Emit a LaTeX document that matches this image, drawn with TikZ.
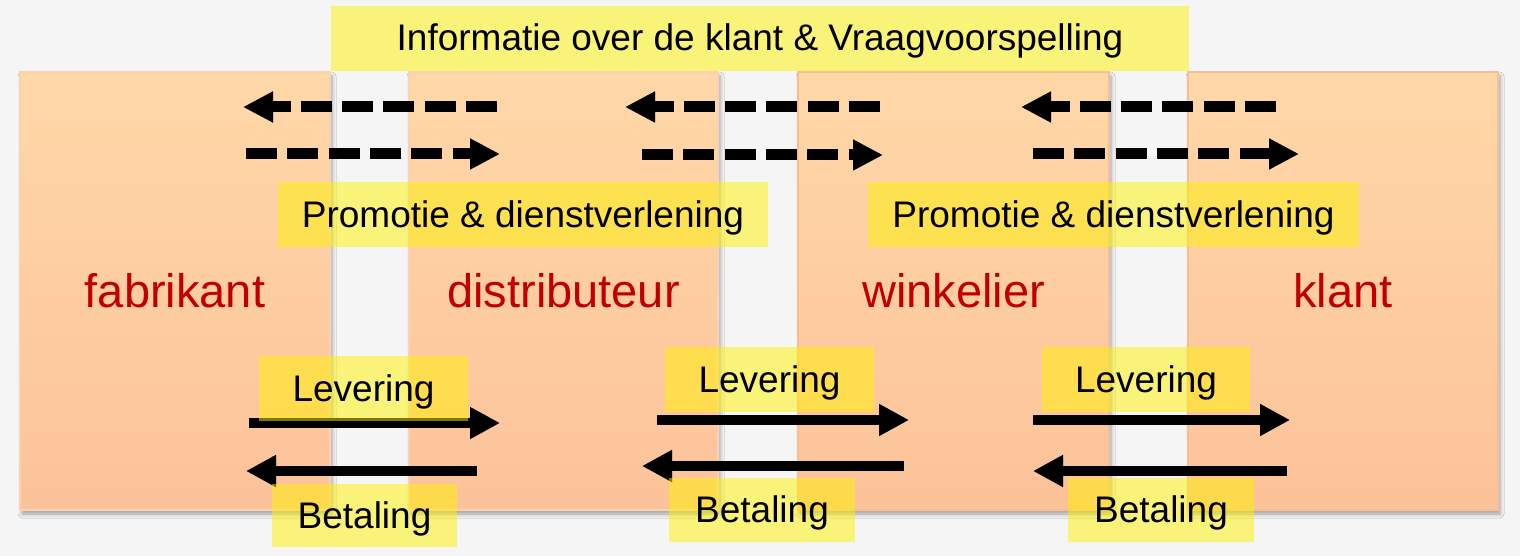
\documentclass[tikz,border=0pt]{standalone}
\usepackage{fontspec}
\setmainfont{Liberation Sans}
\usetikzlibrary{arrows.meta,shadows.blur}
\definecolor{bgcol}{HTML}{F5F5F5}
\definecolor{boxtop}{HTML}{FFD8A8}
\definecolor{boxbot}{HTML}{FCC29A}
\definecolor{boxedge}{HTML}{F6BE96}
\definecolor{boxedgelight}{HTML}{FAD2B2}
\definecolor{redtext}{HTML}{C00000}
\tikzset{
  party/.style={rectangle, inner sep=0pt, minimum width=310pt, minimum height=438pt,
    top color=boxtop, bottom color=boxbot, draw=#1, line width=1.2pt,
    text=redtext, font=\fontsize{47}{50}\selectfont,
    blur shadow={shadow xshift=2pt, shadow yshift=-4pt, shadow blur radius=4pt, shadow opacity=35}},
  ylab/.style={rectangle, inner sep=0pt, minimum height=65pt, fill=yellow,
    fill opacity=0.5, text opacity=1, text=black,
    text height=26pt, text depth=1pt, font=\fontsize{37}{40}\selectfont},
  dashbase/.style={line width=11pt, line cap=butt, dash pattern=on 31pt off 10.3pt,
    -{Triangle[length=30pt,width=29pt]}},
  solidbase/.style={line width=10pt, line cap=butt,
    -{Triangle[length=30pt,width=30pt]}},
  dasharrow/.style={dashbase, draw=black},
  solidarrow/.style={solidbase, draw=black},
  dashshadow/.style={dashbase, draw=black, draw opacity=0.12, fill opacity=0.12, shift={(#1)}},
  solidshadow/.style={solidbase, draw=black, draw opacity=0.12, fill opacity=0.12, shift={(#1)}}
}
\begin{document}
\begin{tikzpicture}[x=1pt,y=-1pt]
\useasboundingbox (0,0) rectangle (1520,556);
\fill[bgcol] (0,0) rectangle (1520,556);

% parties
\node[party=boxedgelight] (fab) at (175,291) {fabrikant};
\node[party=boxedgelight, minimum width=309pt] (dist) at (563.5,291) {distributeur};
\node[party=boxedge, minimum width=311pt] (wink) at (953.5,291) {winkelier};
\node[party=boxedge] (klant) at (1343,291) {klant};

% dashed information arrows
\coordinate (d1ls) at (497,107); \coordinate (d1le) at (243,107);
\coordinate (d1rs) at (246,154); \coordinate (d1re) at (500,154);
\coordinate (d2ls) at (880,107); \coordinate (d2le) at (625,107);
\coordinate (d2rs) at (642,155); \coordinate (d2re) at (883,155);
\coordinate (d3ls) at (1276,107); \coordinate (d3le) at (1021,107);
\coordinate (d3rs) at (1033,154); \coordinate (d3re) at (1299,154);
\foreach \a/\b in {d1ls/d1le,d1rs/d1re,d2ls/d2le,d2rs/d2re,d3ls/d3le,d3rs/d3re}{
  \draw[dashshadow={1,3}] (\a) -- (\b);
  \draw[dashshadow={2,5}] (\a) -- (\b);
  \draw[dasharrow] (\a) -- (\b);
}

% solid arrows
\coordinate (l1s) at (249,423); \coordinate (l1e) at (500,423);
\coordinate (b1s) at (477,471); \coordinate (b1e) at (246,471);
\coordinate (l2s) at (657,420); \coordinate (l2e) at (909,420);
\coordinate (b2s) at (904,466); \coordinate (b2e) at (642,466);
\coordinate (l3s) at (1033,420); \coordinate (l3e) at (1290,420);
\coordinate (b3s) at (1287,471); \coordinate (b3e) at (1033,471);
\foreach \a/\b in {l1s/l1e,b1s/b1e,l2s/l2e,b2s/b2e,l3s/l3e,b3s/b3e}{
  \draw[solidshadow={1,3}] (\a) -- (\b);
  \draw[solidshadow={2,5}] (\a) -- (\b);
  \draw[solidarrow] (\a) -- (\b);
}

% yellow labels
\node[ylab, minimum width=858pt] (info) at (760,38.5) {Informatie over de klant \& Vraagvoorspelling};
\node[ylab, minimum width=490pt] (prom1) at (523,214.5) {Promotie \& dienstverlening};
\node[ylab, minimum width=491pt] (prom2) at (1113.5,214.5) {Promotie \& dienstverlening};
\node[ylab, minimum width=209pt] (lev1) at (363.5,388.5) {Levering};
\node[ylab, minimum width=209pt] (lev2) at (769.5,379.5) {Levering};
\node[ylab, minimum width=208pt] (lev3) at (1146,379.5) {Levering};
\node[ylab, minimum width=185pt, minimum height=63pt] (bet1) at (364.5,515.5) {Betaling};
\node[ylab, minimum width=186pt, minimum height=64pt] (bet2) at (762,510) {Betaling};
\node[ylab, minimum width=186pt, minimum height=64pt] (bet3) at (1161,510) {Betaling};
\end{tikzpicture}
\end{document}
